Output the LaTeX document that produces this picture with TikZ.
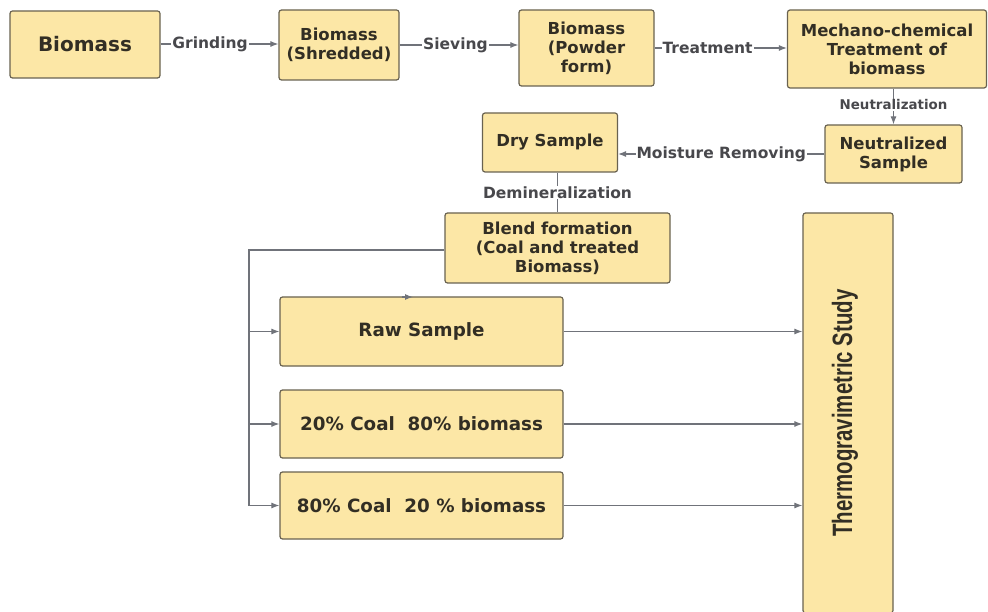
\documentclass[tikz,border=0pt]{standalone}
\usepackage{fontspec}
\setmainfont{DejaVu Sans}
\newfontfamily\narrowfont{Liberation Sans}
\usepackage{graphicx}
\usetikzlibrary{arrows.meta}
\definecolor{boxfill}{RGB}{252,231,166}
\definecolor{boxdraw}{RGB}{105,98,80}
\definecolor{txt}{RGB}{50,46,36}
\definecolor{lblc}{RGB}{72,72,76}
\definecolor{connc}{RGB}{112,115,122}
\begin{document}
\begin{tikzpicture}[x=1pt,y=-1pt,
 box/.style={draw=boxdraw, fill=boxfill, line width=1.2pt, rounded corners=2.5pt, align=center, text=txt, font=\bfseries\fontsize{16.5}{19}\selectfont, inner sep=0pt},
 bigbox/.style={box, font=\bfseries\fontsize{18.3}{21}\selectfont},
 conn/.style={draw=connc, line width=1.1pt, -{Latex[length=8pt,width=6pt]}},
 plain/.style={draw=connc, line width=1.1pt},
 lbl/.style={fill=white, text=lblc, font=\bfseries\fontsize{15.5}{18}\selectfont, inner sep=1pt},
 smalllbl/.style={lbl, font=\bfseries\fontsize{13.4}{16}\selectfont},
]
\useasboundingbox (0,0) rectangle (988,612);

\node[box, minimum width=150pt, minimum height=67pt, font=\bfseries\fontsize{20}{23}\selectfont] (b1) at (85,44.5) {Biomass};
\node[box, minimum width=120pt, minimum height=70pt] (b2) at (339,45) {Biomass\\(Shredded)};
\node[box, minimum width=135pt, minimum height=76pt] (b3) at (586.5,48) {Biomass\\(Powder\\form)};
\node[box, minimum width=199pt, minimum height=78pt] (b4) at (887,49) {Mechano-chemical\\Treatment of\\biomass};
\node[box, minimum width=137pt, minimum height=58pt] (b5) at (893.5,154) {Neutralized\\Sample};
\node[box, minimum width=135pt, minimum height=59pt] (b6) at (550,142.5) {Dry Sample};
\node[box, minimum width=225pt, minimum height=70pt] (b7) at (557.5,248) {Blend formation\\(Coal and treated\\Biomass)};
\node[bigbox, minimum width=283pt, minimum height=69pt] (b8) at (421.5,331.5) {Raw Sample};
\node[bigbox, minimum width=283pt, minimum height=68pt] (b9) at (421.5,424) {20\% Coal\ \ 80\% biomass};
\node[bigbox, minimum width=283pt, minimum height=67pt] (b10) at (421.5,505.5) {80\% Coal\ \ 20 \% biomass};
\node[box, minimum width=90pt, minimum height=400pt] (b11) at (848,413) {};
\node[rotate=90, text=txt, font=\narrowfont\bfseries\fontsize{28}{30}\selectfont, inner sep=0pt] (b11t) at (845,413) {\scalebox{0.73}[1]{Thermogravimetric Study}};

\draw[conn] (b1.east |- 0,44) -- node[lbl, pos=0.42] {Grinding} (b2.west |- 0,44);
\draw[conn] (b2.east) -- node[lbl, pos=0.47] {Sieving} (b2.east -| b3.west);
\draw[conn] (b3.east) -- node[lbl, pos=0.4] {Treatment} (b3.east -| b4.west);
\draw[conn] (b5.north |- b4.south) -- node[smalllbl, pos=0.45] {Neutralization} (b5.north);
\draw[conn] (b5.west) -- node[lbl] {Moisture Removing} (b5.west -| b6.east);
\draw[plain] (b7.north |- b6.south) -- node[lbl] {Demineralization} (b7.north);

\coordinate (j) at (249,250);
\draw[conn] (b7.west |- j) -| (j |- b10.west) -- (b10.west);
\draw[conn] (j |- b8.west) -- (b8.west);
\draw[conn] (j |- b9.west) -- (b9.west);

\draw[conn] (b8.east) -- (b8.east -| b11.west);
\draw[conn] (b9.east) -- (b9.east -| b11.west);
\draw[conn] (b10.east) -- (b10.east -| b11.west);

\coordinate (m1) at (402,297);
\coordinate (m2) at (413,297);
\draw[conn] (m1) -- (m2);
\end{tikzpicture}
\end{document}
